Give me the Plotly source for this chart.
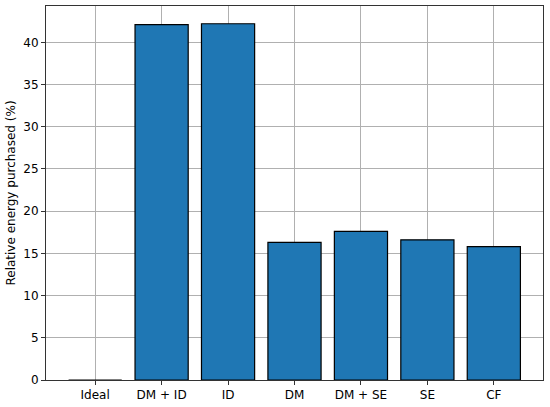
import plotly.graph_objects as go

categories = ["Ideal", "DM + ID", "ID", "DM", "DM + SE", "SE", "CF"]
values = [0.0, 42.1, 42.2, 16.3, 17.6, 16.6, 15.8]
y_ticks = [0, 5, 10, 15, 20, 25, 30, 35, 40]

fig = go.Figure(
    go.Bar(
        x=list(range(len(categories))),
        y=values,
        width=0.8,
        marker=dict(color="#1f77b4", line=dict(color="black", width=1.2)),
    )
)

fig.update_layout(
    width=550,
    height=407,
    margin=dict(l=46, r=7, t=5, b=24),
    paper_bgcolor="white",
    plot_bgcolor="white",
    font=dict(family="DejaVu Sans", size=12, color="black"),
    showlegend=False,
)

fig.update_xaxes(
    tickmode="array",
    tickvals=list(range(len(categories))),
    ticktext=categories,
    range=[-0.74, 6.74],
    showline=True,
    mirror=True,
    linecolor="#333333",
    linewidth=1,
    ticks="outside",
    ticklen=4,
    tickcolor="#333333",
    showgrid=True,
    gridcolor="#b0b0b0",
    gridwidth=1,
    zeroline=False,
)

fig.update_yaxes(
    tickmode="array",
    tickvals=y_ticks,
    range=[0, 44.3],
    showline=True,
    mirror=True,
    linecolor="#333333",
    linewidth=1,
    ticks="outside",
    ticklen=4,
    tickcolor="#333333",
    showgrid=True,
    gridcolor="#b0b0b0",
    gridwidth=1,
    zeroline=False,
    title=dict(text="Relative energy purchased (%)", standoff=5, font=dict(size=12)),
)

fig.write_html(
    "out.html",
    config={"displayModeBar": False},
    post_script="document.body.style.margin='0';document.body.style.overflow='hidden';",
)
